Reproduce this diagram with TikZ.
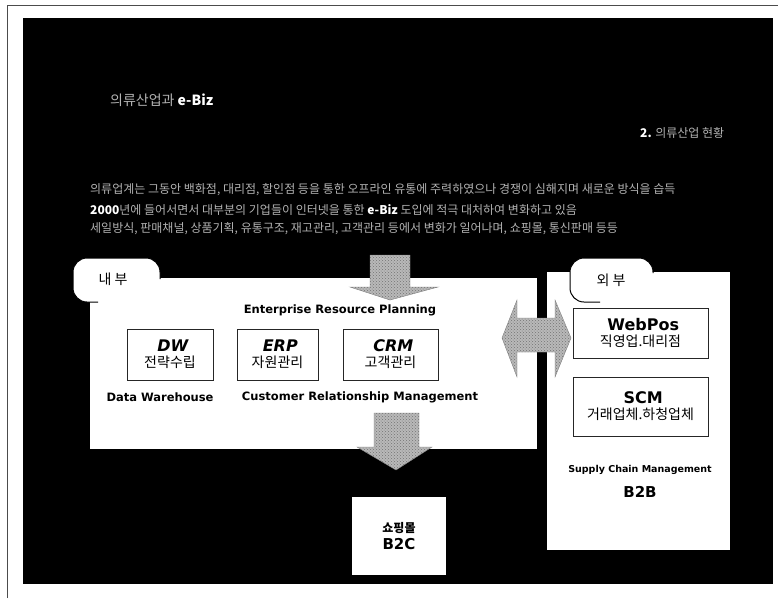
\documentclass[tikz,border=0pt]{standalone}
\usepackage{fontspec}
\setmainfont{DejaVu Sans}
\newfontfamily\krfont{Noto Sans CJK KR}
\usetikzlibrary{patterns}

\tikzset{
  panel/.style={fill=white, inner sep=0},
  tagline/.style={fill=white, draw=black, line width=1pt, rounded corners=14pt},
  tagtext/.style={font=\krfont\fontsize{14}{16}\selectfont, inner sep=0},
  modbox/.style={draw=black!85, line width=0.9pt, fill=white, inner sep=0, align=center},
  caption/.style={font=\bfseries\fontsize{11.5}{13}\selectfont, inner sep=0},
  hatcharrow/.style={preaction={fill=gray!55}, pattern=crosshatch dots, pattern color=black!55, draw=black!50, line width=0.4pt},
  bodyline/.style={text=gray!60, font=\krfont\fontsize{12}{14}\selectfont, anchor=west, inner sep=0},
}
\newcommand{\modtext}[3]{{\fontsize{16}{18}\selectfont\bfseries#1 #2}\\[4pt]{\krfont\fontsize{14}{16}\selectfont #3}}

\begin{document}
\begin{tikzpicture}[x=1pt, y=-1pt]
  \useasboundingbox (0,0) rectangle (778,598);
  \fill[white] (0,0) rectangle (778,598);
  % frame and slide
  \draw[black!70, line width=0.8pt] (7,598) -- (7,5) -- (778,5);
  \fill[black] (23,18) rectangle (773,584);

  % heading
  \node[anchor=west, inner sep=0, text=gray!60, font=\krfont\fontsize{14}{16}\selectfont] (title) at (110,100)
    {의류산업과 {\color{white}\bfseries e-Biz}};
  \node[anchor=west, inner sep=0, text=gray!60, font=\krfont\fontsize{12}{14}\selectfont] (sect) at (640,133)
    {{\color{white}\bfseries 2.} 의류산업 현황};
  \node[bodyline] (line1) at (90,190) {의류업계는 그동안 백화점, 대리점, 할인점 등을 통한 오프라인 유통에 주력하였으나 경쟁이 심해지며 새로운 방식을 습득};
  \node[bodyline] (line2) at (90,210) {{\color{white}\bfseries 2000}년에 들어서면서 대부분의 기업들이 인터넷을 통한 {\color{white}\bfseries e-Biz} 도입에 적극 대처하여 변화하고 있음};
  \node[bodyline] (line3) at (90,229) {세일방식, 판매채널, 상품기획, 유통구조, 재고관리, 고객관리 등에서 변화가 일어나며, 쇼핑몰, 통신판매 등등};

  % panels
  \node[panel, minimum width=447, minimum height=171] (inner) at (313.5,363.5) {};
  \node[panel, minimum width=183, minimum height=278] (outer) at (638.5,411) {};

  % tags
  \filldraw[tagline] (160,279) -- (160,258) -- (73,258) -- (73,302) -- (98,302);
  \node[tagtext] (inT) at (113,279) {내 부};
  \filldraw[tagline] (653,273) -- (653,258) -- (570,258) -- (570,302) -- (600,302);
  \node[tagtext] (outT) at (611,280) {외 부};

  % block arrows
  \filldraw[hatcharrow] (370,255) -- (410,255) -- (410,287) -- (438,287) -- (390,300) -- (350,287) -- (370,287) -- cycle;
  \filldraw[hatcharrow] (374,413) -- (419,413) -- (419,447) -- (432,447) -- (396,470) -- (357,447) -- (374,447) -- cycle;
  \filldraw[hatcharrow] (502,338) -- (517,300) -- (517,318) -- (555,318) -- (555,300) -- (571,338) -- (555,377) -- (555,352) -- (517,352) -- (517,377) -- cycle;

  % inside
  \node[caption] (erpcap) at (340,310) {Enterprise Resource Planning};
  \node[modbox, minimum width=86, minimum height=51] (dw) at (170,354.5) {\modtext{\itshape}{DW}{전략수립}};
  \node[modbox, minimum width=81, minimum height=51] (erp) at (277.5,354.5) {\modtext{\itshape}{ERP}{자원관리}};
  \node[modbox, minimum width=95, minimum height=51] (crm) at (390.5,354.5) {\modtext{\itshape}{CRM}{고객관리}};
  \node[caption] (dwcap) at (160,397) {Data Warehouse};
  \node[caption] (crmcap) at (360,397) {Customer Relationship Management};

  % outside
  \node[modbox, minimum width=135, minimum height=50] (webpos) at (640.5,333) {\modtext{}{WebPos}{직영업.대리점}};
  \node[modbox, minimum width=135, minimum height=59] (scm) at (640.5,406.5) {\modtext{}{SCM}{거래업체.하청업체}};
  \node[caption, font=\bfseries\fontsize{9.5}{11}\selectfont] (scmcap) at (640,470) {Supply Chain Management};
  \node[caption, font=\bfseries\fontsize{15}{17}\selectfont] (b2b) at (640,492) {B2B};

  % shopping mall
  \node[panel, minimum width=94, minimum height=78, align=center] (mall) at (399,536)
    {{\krfont\bfseries\fontsize{12}{14}\selectfont 쇼핑몰}\\[3pt]{\bfseries\fontsize{15}{17}\selectfont B2C}};
\end{tikzpicture}
\end{document}
